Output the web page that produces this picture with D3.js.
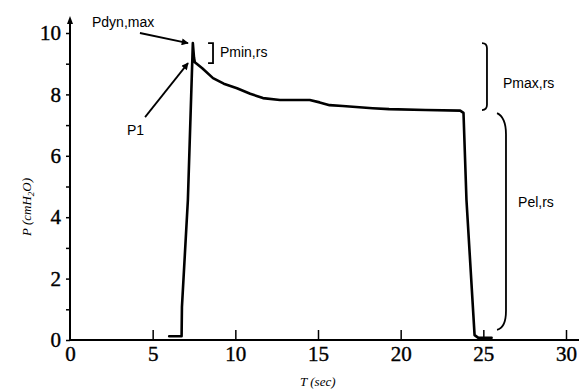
<!DOCTYPE html>
<html>
<head>
<meta charset="utf-8">
<script src="https://cdn.jsdelivr.net/npm/d3@7"></script>
<style>
  body { margin: 0; background: #fff; }
  .note { font-family: "Liberation Sans", Arial, sans-serif; font-size: 14px; fill: #000; }
  .ttl { font-family: "Liberation Serif", "Times New Roman", serif; font-style: italic; font-size: 13px; fill: #000; }
</style>
</head>
<body>
<div id="chart"></div>
<script>
// pressure trace
var tSec = [6.0, 6.75, 6.77, 7.13, 7.43, 7.5, 7.55, 8.0, 8.65, 9.3, 10.1, 10.9, 11.67, 12.7, 13.6, 14.5, 15.1, 15.7, 16.5, 17.3, 18.3, 19.3, 21.5, 23.6, 23.8, 23.98, 24.47, 24.7, 25.5];
var pressure = [0.12, 0.12, 1.07, 4.56, 9.67, 9.2, 9.05, 8.85, 8.53, 8.35, 8.2, 8.02, 7.88, 7.82, 7.82, 7.82, 7.74, 7.65, 7.62, 7.59, 7.55, 7.52, 7.49, 7.47, 7.4, 4.56, 0.16, 0.07, 0.07];

var xTicks = [0, 5, 10, 15, 20, 25, 30];
var yTicks = [0, 1, 2, 3, 4, 5, 6, 7, 8, 9, 10];

// labels, in data units
var noteText = ["Pdyn,max", "P1", "Pmin,rs", "Pmax,rs", "Pel,rs"];
var noteT = [1.33, 3.45, 9.07, 26.19, 27.1];
var noteP = [10.2, 6.68, 9.22, 8.21, 4.33];

// arrows: [t0, p0, t1, p1]
var arrows = [[4.23, 10.0, 7.14, 9.67], [4.54, 7.26, 7.14, 9.02]];

var W = 579, H = 390;
var serif = "'Liberation Serif', 'Times New Roman', serif";
var x = d3.scaleLinear().domain([0, 30]).range([70, 566]);
var y = d3.scaleLinear().domain([0, 10]).range([340, 33]);

var svg = d3.select("#chart").append("svg").attr("width", W).attr("height", H);

svg.append("defs").append("marker")
  .attr("id", "ah").attr("viewBox", "0 0 10 10").attr("refX", 9).attr("refY", 5)
  .attr("markerWidth", 9).attr("markerHeight", 7).attr("markerUnits", "userSpaceOnUse")
  .attr("orient", "auto")
  .append("path").attr("d", "M0,0 L10,5 L0,10 z").attr("fill", "#000");

// y axis
var yAxis = d3.axisLeft(y).tickValues(yTicks).tickSize(4).tickPadding(5).tickSizeOuter(0)
  .tickFormat(function(d) { return d % 2 === 0 ? d : ""; });
var gy = svg.append("g").attr("transform", "translate(70,0)").call(yAxis);
gy.select(".domain").remove();
gy.selectAll("line").attr("stroke", "#000").attr("stroke-width", 1.5);
gy.selectAll("text").style("font-family", serif).style("font-size", "21px").style("fill", "#000")
  .style("stroke", "#000").style("stroke-width", "0.4px");
svg.append("line").attr("x1", 70).attr("x2", 70).attr("y1", y(0)).attr("y2", 20)
  .attr("stroke", "#000").attr("stroke-width", 2);
svg.append("path").attr("d", "M70,16 L67,24 L73,24 z").attr("fill", "#000");

// x axis
var xAxis = d3.axisBottom(x).tickValues(xTicks).tickSize(-10).tickPadding(6).tickSizeOuter(0);
var gx = svg.append("g").attr("transform", "translate(0," + y(0) + ")").call(xAxis);
gx.select(".domain").remove();
gx.selectAll("line").attr("stroke", "#000").attr("stroke-width", 1.5);
gx.selectAll(".tick").filter(function(d) { return d === 0; }).select("line").remove();
gx.selectAll("text").style("font-family", serif).style("font-size", "21px").style("fill", "#000")
  .style("stroke", "#000").style("stroke-width", "0.4px");
svg.append("line").attr("x1", 69).attr("x2", W).attr("y1", y(0)).attr("y2", y(0))
  .attr("stroke", "#000").attr("stroke-width", 2.2);

// axis titles
svg.append("text").attr("class", "ttl").attr("x", 300).attr("y", 386).text("T (sec)");
var yt = svg.append("text").attr("class", "ttl").attr("transform", "translate(31,236) rotate(-90)");
yt.append("tspan").text("P (cmH");
yt.append("tspan").attr("font-size", 9).attr("dy", 3).text("2");
yt.append("tspan").attr("dy", -3).text("O)");

// trace
var pts = tSec.map(function(t, i) { return [t, pressure[i]]; });
var line = d3.line().x(function(d) { return x(d[0]); }).y(function(d) { return y(d[1]); });
svg.append("path").datum(pts).attr("d", line)
  .attr("fill", "none").attr("stroke", "#000").attr("stroke-width", 2.6)
  .attr("stroke-linejoin", "round").attr("stroke-linecap", "round");

// arrows
svg.selectAll(".arr").data(arrows).enter().append("line").attr("class", "arr")
  .attr("x1", function(d) { return x(d[0]); }).attr("y1", function(d) { return y(d[1]); })
  .attr("x2", function(d) { return x(d[2]); }).attr("y2", function(d) { return y(d[3]); })
  .attr("stroke", "#000").attr("stroke-width", 1.8).attr("marker-end", "url(#ah)");

// brackets
var bPmin = "M" + x(8.35) + "," + y(9.67) + " H" + x(8.65) + " V" + y(9.02) + " H" + x(8.35);
var bPmax = "M" + x(24.92) + "," + y(9.67) + " Q" + x(25.22) + "," + y(9.67) + " " + x(25.22) + "," + y(9.5) +
  " V" + y(7.66) + " Q" + x(25.22) + "," + y(7.49) + " " + x(24.92) + "," + y(7.49);
var bPel = "M" + x(25.83) + "," + y(7.39) + " Q" + x(26.37) + "," + y(7.25) + " " + x(26.37) + "," + y(6.7) +
  " V" + y(0.95) + " Q" + x(26.37) + "," + y(0.4) + " " + x(25.83) + "," + y(0.33);
svg.selectAll(".brk").data([bPmin, bPmax, bPel]).enter().append("path").attr("class", "brk")
  .attr("d", function(d) { return d; })
  .attr("fill", "none").attr("stroke", "#000").attr("stroke-width", 1.8);

// labels
svg.selectAll(".note").data(noteText).enter().append("text").attr("class", "note")
  .attr("x", function(d, i) { return x(noteT[i]); })
  .attr("y", function(d, i) { return y(noteP[i]); })
  .text(function(d) { return d; });
</script>
</body>
</html>
